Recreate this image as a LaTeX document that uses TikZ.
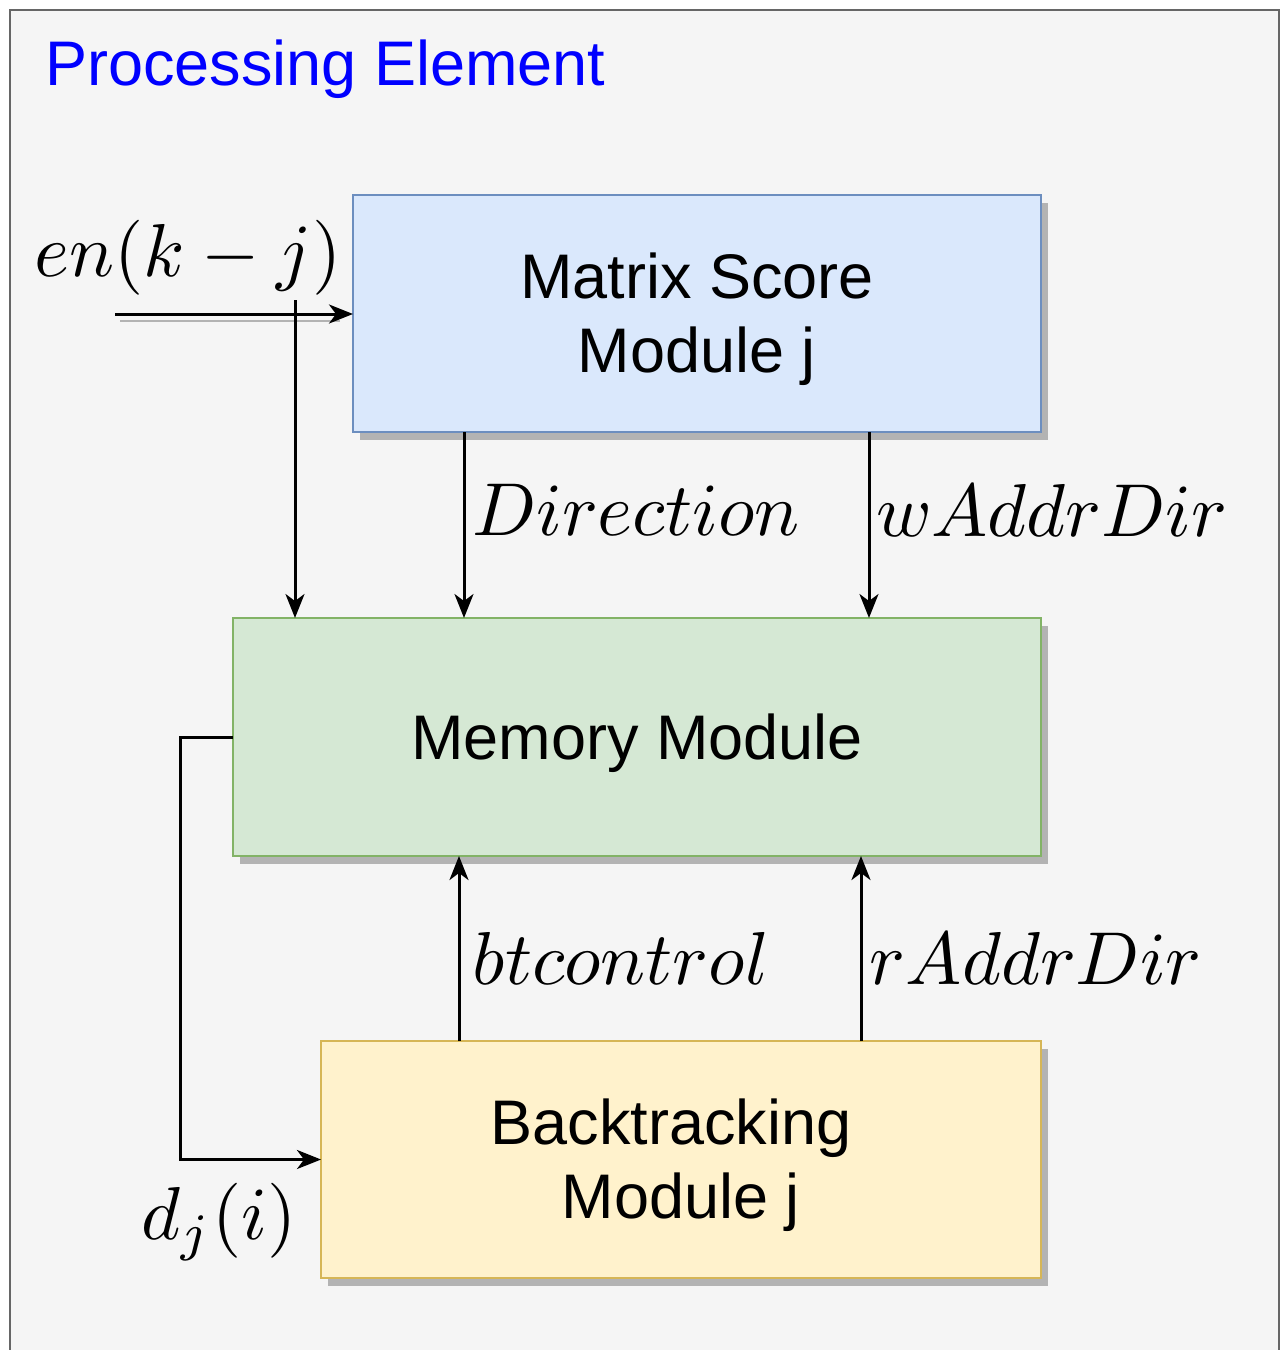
\documentclass[tikz,border=0pt]{standalone}
\usepackage{fontspec}
\usepackage{graphicx}
\setmainfont{Liberation Sans}
\usetikzlibrary{arrows.meta,shadows}
\definecolor{framefill}{HTML}{F5F5F5}
\definecolor{framedraw}{HTML}{666666}
\definecolor{bluefill}{HTML}{DAE8FC}
\definecolor{bluedraw}{HTML}{6C8EBF}
\definecolor{greenfill}{HTML}{D5E8D4}
\definecolor{greendraw}{HTML}{82B366}
\definecolor{yellowfill}{HTML}{FFF2CC}
\definecolor{yellowdraw}{HTML}{D6B656}
\definecolor{shadowgray}{HTML}{B3B3B3}
\newcommand{\bigmath}[1]{\scalebox{7.5}{$#1$}}
\begin{document}
\begin{tikzpicture}[x=1pt,y=-1pt,
  modbox/.style={draw, line width=2.5pt, inner sep=0pt, outer sep=0pt,
    drop shadow={shadow xshift=7pt, shadow yshift=-8pt, fill=shadowgray, opacity=1}},
  boxtext/.style={inner sep=0pt, align=center, font=\fontsize{63}{74}\selectfont},
  arr/.style={-{Stealth[length=24pt,width=19pt,inset=7pt]}, line width=3pt},
  mlbl/.style={inner sep=0pt}]
\useasboundingbox (0,0) rectangle (1285,1350);
\begin{scope}
\clip (0,0) rectangle (1285,1350);
\draw[fill=framefill, draw=framedraw, line width=2.5pt] (10,10) rectangle (1279,1380);
\end{scope}
\node[anchor=base west, text=blue, inner sep=0pt, font=\fontsize{63}{74}\selectfont] (title) at (45,85) {Processing Element};

\node[modbox, fill=bluefill, draw=bluedraw, minimum width=688pt, minimum height=237pt] (matrix) at (697,313.5) {};
\node[modbox, fill=greenfill, draw=greendraw, minimum width=808pt, minimum height=238pt] (memory) at (637,737) {};
\node[modbox, fill=yellowfill, draw=yellowdraw, minimum width=720pt, minimum height=237pt] (backtrack) at (681,1159.5) {};
\node[boxtext] (matrixtxt) at ([yshift=-6pt]matrix.center) {Matrix Score\\Module j};
\node[boxtext] (memorytxt) at ([yshift=-6pt]memory.center) {Memory Module};
\node[boxtext] (backtracktxt) at ([yshift=-6pt]backtrack.center) {Backtracking\hspace*{20pt}\\Module j};

% labels
\node[mlbl] (enl) at (188,258) {\bigmath{en(k-j)}};
\node[mlbl] (dirl) at (636,510) {\bigmath{Direction}};
\node[mlbl] (wal) at (1052,510) {\bigmath{wAddrDir}};
\node[mlbl] (btl) at (621,958) {\bigmath{btcontrol}};
\node[mlbl] (ral) at (1036,958) {\bigmath{rAddrDir}};
\node[mlbl] (dl) at (219,1222) {\bigmath{d_j(i)}};

% connectors
\coordinate (enstart) at (115,314);
\draw[shadowgray, line width=2.5pt] (120,321) -- (340,321);
\draw[arr] (enstart) -- (enstart -| matrix.west);
\coordinate (vstart) at (295,300);
\draw[arr] (vstart) -- (vstart |- memory.north);
\draw[arr] ([xshift=111pt]matrix.south west) -- ([xshift=231pt]memory.north west);
\draw[arr] ([xshift=516pt]matrix.south west) -- ([xshift=636pt]memory.north west);
\draw[arr] ([xshift=138pt]backtrack.north west) -- ([xshift=226pt]memory.south west);
\draw[arr] ([xshift=540pt]backtrack.north west) -- ([xshift=628pt]memory.south west);
\coordinate (dcorner) at (180,1000);
\draw[arr] (memory.west) -| (dcorner) |- (backtrack.west);
\end{tikzpicture}
\end{document}
